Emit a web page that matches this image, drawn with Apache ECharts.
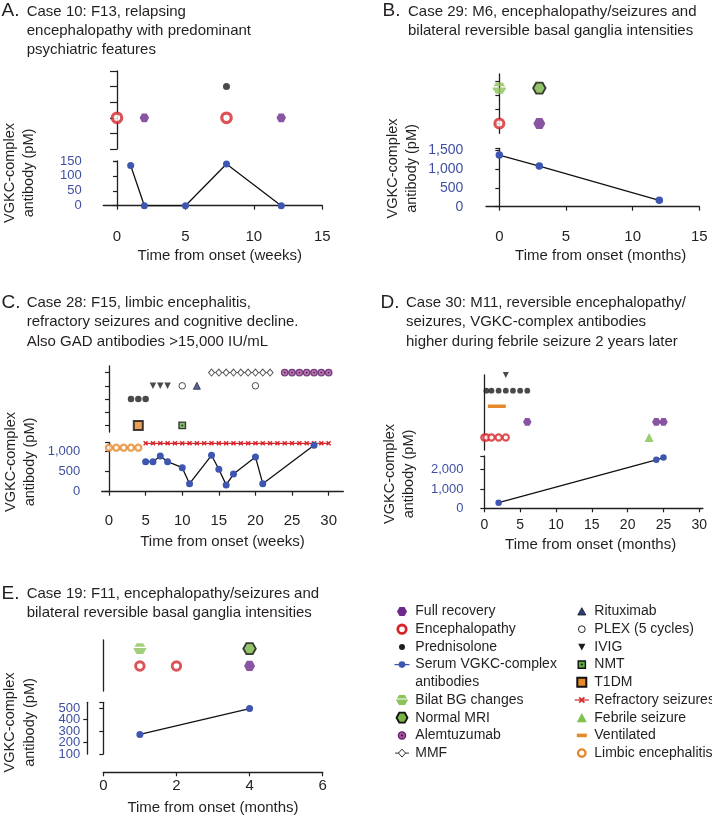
<!DOCTYPE html>
<html><head><meta charset="utf-8">
<script src="https://cdn.jsdelivr.net/npm/echarts@6/dist/echarts.min.js"></script>
<style>html,body{margin:0;padding:0;background:#fff}#c{width:712px;height:818px}</style>
</head><body><div id="c"></div>
<script>
// ---------------- DATA ----------------
// Panel A (weeks)
const A_abTimes = [1, 2, 5, 8, 12];
const A_abValues = [135, 0, 0, 140, 0];
const A_enceph = [0, 8];
const A_recovery = [2, 12];
const A_pred = [8];
const A_xTicks = [0, 5, 10, 15];
const A_yTicks = [0, 50, 100, 150];

// Panel B (months)
const B_abTimes = [0, 3, 12];
const B_abValues = [1370, 1080, 170];
const B_enceph = [0];
const B_recovery = [3];
const B_bilatBG = [0];
const B_normalMRI = [3];
const B_xTicks = [0, 5, 10, 15];
const B_yTicks = [0, 500, 1000, 1500];

// Panel C (weeks)
const C_abTimes = [5, 6, 7, 8, 10, 11, 14, 15, 16, 17, 20, 21, 28];
const C_abValues = [750, 750, 890, 750, 600, 200, 910, 560, 170, 440, 870, 200, 1160];
const C_limbic = [0, 1, 2, 3, 4];
const C_refractory = [5, 6, 7, 8, 9, 10, 11, 12, 13, 14, 15, 16, 17, 18, 19, 20, 21, 22, 23, 24, 25, 26, 27, 28, 29, 30];
const C_t1dm = [4];
const C_nmt = [10];
const C_pred = [3, 4, 5];
const C_ivig = [6, 7, 8];
const C_plex = [10, 20];
const C_ritux = [12];
const C_mmf = [14, 15, 16, 17, 18, 19, 20, 21, 22];
const C_alem = [24, 25, 26, 27, 28, 29, 30];
const C_xTicks = [0, 5, 10, 15, 20, 25, 30];
const C_yTicks = [0, 500, 1000];

// Panel D (months)
const D_abTimes = [2, 24, 25];
const D_abValues = [290, 2500, 2620];
const D_enceph = [0, 0.3, 1, 2, 3];
const D_febrile = [23];
const D_recovery = [6, 24, 25];
const D_ventilated = [0.5, 3];
const D_pred = [0.3, 1, 2, 3, 4, 5, 6];
const D_ivig = [3];
const D_xTicks = [0, 5, 10, 15, 20, 25, 30];
const D_yTicks = [0, 1000, 2000];

// Panel E (months)
const E_abTimes = [1, 4];
const E_abValues = [270, 495];
const E_enceph = [1, 2];
const E_recovery = [4];
const E_bilatBG = [1];
const E_normalMRI = [4];
const E_xTicks = [0, 2, 4, 6];
const E_yTicks = [100, 200, 300, 400, 500];

// Event rows (categorical row index on each event axis)
const ROW = {
  A: {enceph: 2, recovery: 2, pred: 4},
  B: {enceph: 1, recovery: 1, bilat: 3.5, mri: 3.5},
  C: {t1dm: 0, nmt: 0, pred: 2, ivig: 3, plex: 3, ritux: 3, mmf: 4, alem: 4, limbic: 1100, refr: 1210},
  D: {enceph: 0, febrile: 0, recovery: 1, vent: 2, pred: 3, ivig: 4},
  E: {enceph: 0, recovery: 0, bilat: 1, mri: 1}
};

// Legend
const LEG1 = ['Full recovery', 'Encephalopathy', 'Prednisolone', 'Serum VGKC-complex', 'antibodies', 'Bilat BG changes', 'Normal MRI', 'Alemtuzumab', 'MMF'];
const LEG1_KIND = ['recovery', 'enceph', 'pred', 'serum', null, 'bilat', 'mri', 'alem', 'mmf'];
const LEG2 = ['Rituximab', 'PLEX (5 cycles)', 'IVIG', 'NMT', 'T1DM', 'Refractory seizures', 'Febrile seizure', 'Ventilated', 'Limbic encephalitis'];
const LEG2_KIND = ['ritux', 'plex', 'ivig', 'nmt', 't1dm', 'refr', 'febrile', 'vent', 'limbic'];

// ---------------- STYLE ----------------
const FONT = 'Liberation Sans, Arial, Helvetica, sans-serif';
const COL = {
  purple: '#6b2a8c', red: '#d6262b', black: '#1d1d1b', blue: '#3e56b0',
  green: '#8cc25a', green2: '#78b443', alem: '#a8529f', alemB: '#5d1f68',
  navy: '#2c3d86', nmt: '#5fae47', orange: '#e5892d', febrile: '#7ec24b',
  axis: '#231f20', tick: '#3f4fa0', text: '#231f20'
};
const HEX = 'path://M-1,0L-0.5,-0.866L0.5,-0.866L1,0L0.5,0.866L-0.5,0.866Z';
const BGHEX = 'path://M-0.5,-0.866L0.5,-0.866L0.83,-0.3L-0.83,-0.3ZM-0.94,-0.1L0.94,-0.1L1,0L0.5,0.866L-0.5,0.866L-1,0Z';
const CROSS = 'path://M-1,-0.6L-0.6,-1L0,-0.4L0.6,-1L1,-0.6L0.4,0L1,0.6L0.6,1L0,0.4L-0.6,1L-1,0.6L-0.4,0Z';

const STY = {
  recovery: s => ({symbol: HEX, symbolSize: [s, s * 0.92], itemStyle: {color: COL.purple}}),
  enceph: s => ({symbol: 'circle', symbolSize: s, itemStyle: {color: '#fff', borderColor: COL.red, borderWidth: s * 0.34}}),
  pred: s => ({symbol: 'circle', symbolSize: s, itemStyle: {color: COL.black}}),
  bilat: s => ({symbol: BGHEX, symbolSize: [s, s * 0.82], itemStyle: {color: COL.green}}),
  mri: s => ({symbol: HEX, symbolSize: [s, s * 0.88], itemStyle: {color: COL.green2, borderColor: '#111', borderWidth: 1.8}}),
  alem: s => ({symbol: 'circle', symbolSize: s, itemStyle: {color: COL.alem, borderColor: COL.alemB, borderWidth: 1.3}}),
  dot: s => ({symbol: 'circle', symbolSize: s, itemStyle: {color: '#2a0f30'}}),
  ritux: s => ({symbol: 'triangle', symbolSize: s, itemStyle: {color: COL.navy, borderColor: '#111', borderWidth: 0.8}}),
  plex: s => ({symbol: 'circle', symbolSize: s, itemStyle: {color: '#fff', borderColor: '#222', borderWidth: 1}}),
  ivig: s => ({symbol: 'triangle', symbolRotate: 180, symbolSize: s, itemStyle: {color: COL.black}}),
  nmt: s => ({symbol: 'rect', symbolSize: s, itemStyle: {color: COL.nmt, borderColor: '#111', borderWidth: 1.4}}),
  t1dm: s => ({symbol: 'rect', symbolSize: s, itemStyle: {color: COL.orange, borderColor: '#111', borderWidth: 2}}),
  febrile: s => ({symbol: 'triangle', symbolSize: s, itemStyle: {color: COL.febrile}}),
  limbic: s => ({symbol: 'circle', symbolSize: s, itemStyle: {color: '#fff', borderColor: COL.orange, borderWidth: 2.3}})
};

// ---------------- LAYOUT ----------------
const grids = [], xAxes = [], yAxes = [], series = [];
const axisLine = {show: true, lineStyle: {color: COL.axis, width: 1.3}};
const fmt = v => String(v).replace(/\B(?=(\d{3})+(?!\d))/g, ',');

function lowerY(gl, lo, labels, ticks) {
  return {
    type: 'value', gridIndex: gl, position: 'left', min: lo.min, max: lo.max, offset: lo.offset,
    axisLine: axisLine,
    axisTick: {show: true, length: 4, customValues: ticks, lineStyle: {color: COL.axis, width: 1.2}},
    axisLabel: {customValues: labels, fontSize: lo.font, color: COL.tick, margin: lo.margin, fontFamily: FONT, formatter: fmt, showMinLabel: true, showMaxLabel: true, hideOverlap: false},
    splitLine: {show: false}
  };
}

function addPanel(c) {
  const gu = grids.length, gl = gu + 1;
  grids.push({left: c.left, width: c.width, top: c.up.top, height: c.up.height});
  grids.push({left: c.left, width: c.width, top: c.lo.top, height: c.lo.height});
  xAxes.push({type: 'value', gridIndex: gu, min: c.xmin, max: c.xmax, show: false});
  xAxes.push({
    type: 'value', gridIndex: gl, min: c.xmin, max: c.xmax, offset: c.x.offset,
    axisLine: axisLine,
    axisTick: {show: true, length: 4, customValues: c.x.ticks, lineStyle: {color: COL.axis, width: 1.2}},
    axisLabel: {customValues: c.x.ticks, fontSize: c.x.font, color: COL.text, margin: c.x.margin, fontFamily: FONT, showMinLabel: true, showMaxLabel: true},
    splitLine: {show: false},
    name: c.x.name, nameLocation: 'middle', nameGap: c.x.gap,
    nameTextStyle: {fontSize: 15, color: COL.text, fontFamily: FONT, padding: c.x.pad}
  });
  yAxes.push({
    type: 'value', gridIndex: gu, min: c.up.min, max: c.up.max, offset: c.up.offset,
    axisLine: axisLine,
    axisTick: {show: !!c.up.ticks, length: c.up.tickLen || 4, customValues: c.up.ticks || [], lineStyle: {color: COL.axis, width: 1.2}},
    axisLabel: {show: false}, splitLine: {show: false}
  });
  const yl = yAxes.length;
  if (c.lo.split) {
    // tightly packed labels: draw alternate ticks on a twin axis so none get hidden
    const a = c.lo.labels.filter((v, i) => i % 2 === 0), b = c.lo.labels.filter((v, i) => i % 2 === 1);
    yAxes.push(lowerY(gl, c.lo, a, a.concat([c.lo.max])));
    yAxes.push(lowerY(gl, c.lo, b, b));
  } else {
    yAxes.push(lowerY(gl, c.lo, c.lo.labels, c.lo.labels.concat([c.lo.max])));
  }
  return [gu, gl, gu, yl];
}

function serum(xi, yi, times, values, size) {
  series.push({
    type: 'line', xAxisIndex: xi, yAxisIndex: yi, clip: false, silent: true, z: 4,
    data: times.map((t, i) => [t, values[i]]),
    symbol: 'circle', symbolSize: size, showAllSymbol: true,
    itemStyle: {color: COL.blue}, lineStyle: {color: '#111', width: 1.3}
  });
}
function evt(kind, xi, yi, times, level, size, z) {
  series.push(Object.assign({
    type: 'scatter', xAxisIndex: xi, yAxisIndex: yi, clip: false, silent: true, z: z || 3,
    data: times.map(t => [t, level])
  }, STY[kind](size)));
}
function lineEvt(xi, yi, times, level, opt) {
  series.push(Object.assign({
    type: 'line', xAxisIndex: xi, yAxisIndex: yi, clip: false, silent: true, z: 3, showAllSymbol: true,
    data: times.map(t => [t, level])
  }, opt));
}

// Panel A
let [aux, alx, auy, aly] = addPanel({
  left: 103.3, width: 219, xmin: -1, xmax: 15,
  up: {top: 71, height: 78, min: 0, max: 5, ticks: [0, 1, 2, 3, 4, 5], tickLen: 7, offset: 15},
  lo: {top: 161, height: 44.7, min: 0, max: 150, labels: A_yTicks, font: 13, margin: 5.5, offset: 16},
  x: {offset: 18.3, ticks: A_xTicks, font: 15, margin: 5.5, name: 'Time from onset (weeks)', gap: 24, pad: [0, 0, 0, 14]}
});
serum(alx, aly, A_abTimes, A_abValues, 7);
evt('enceph', aux, auy, A_enceph, ROW.A.enceph, 9.5);
evt('recovery', aux, auy, A_recovery, ROW.A.recovery, 9.5);
evt('pred', aux, auy, A_pred, ROW.A.pred, 7);

// Panel B
let [bux, blx, buy, bly] = addPanel({
  left: 486, width: 213.3, xmin: -1, xmax: 15,
  up: {top: 74, height: 59.3, min: 0.3, max: 4.5, ticks: [1, 2, 3, 4], tickLen: 4, offset: 14.3},
  lo: {top: 148.3, height: 58.4, min: 0, max: 1550, labels: B_yTicks, font: 14, margin: 8, offset: 14.7},
  x: {offset: 17.3, ticks: B_xTicks, font: 15, margin: 5.5, name: 'Time from onset (months)', gap: 24, pad: [0, 0, 0, 16]}
});
serum(blx, bly, B_abTimes, B_abValues, 7.5);
evt('enceph', bux, buy, B_enceph, ROW.B.enceph, 9);
evt('recovery', bux, buy, B_recovery, ROW.B.recovery, 12);
evt('bilat', bux, buy, B_bilatBG, ROW.B.bilat, 14);
evt('mri', bux, buy, B_normalMRI, ROW.B.mri, 12.5);

// Panel C
let [cux, clx, cuy, cly] = addPanel({
  left: 101.7, width: 241.6, xmin: -1, xmax: 32,
  up: {top: 366, height: 66, min: -0.5, max: 4.5, ticks: [0, 1, 2, 3, 4], tickLen: 4, offset: 14.4},
  lo: {top: 442.5, height: 49.2, min: 0, max: 1230, labels: C_yTicks, font: 13, margin: 7, offset: 14.4},
  x: {offset: 15.6, ticks: C_xTicks, font: 15, margin: 6, name: 'Time from onset (weeks)', gap: 27, pad: [0, 0, 0, 0]}
});
serum(clx, cly, C_abTimes, C_abValues, 7);
evt('limbic', clx, cly, C_limbic, ROW.C.limbic, 6);
lineEvt(clx, cly, C_refractory, ROW.C.refr, {symbol: CROSS, symbolSize: 5, itemStyle: {color: COL.red}, lineStyle: {color: COL.red, width: 1.3}});
evt('t1dm', cux, cuy, C_t1dm, ROW.C.t1dm, 9);
evt('nmt', cux, cuy, C_nmt, ROW.C.nmt, 6.5);
evt('dot', cux, cuy, C_nmt, ROW.C.nmt, 2, 4);
evt('pred', cux, cuy, C_pred, ROW.C.pred, 6.5);
evt('ivig', cux, cuy, C_ivig, ROW.C.ivig, 6.5);
evt('plex', cux, cuy, C_plex, ROW.C.plex, 6.5);
evt('ritux', cux, cuy, C_ritux, ROW.C.ritux, 7);
lineEvt(cux, cuy, C_mmf, ROW.C.mmf, {symbol: 'diamond', symbolSize: [6, 7], itemStyle: {color: '#fff', borderColor: '#555', borderWidth: 1}, lineStyle: {color: '#555', width: 1}});
evt('alem', cux, cuy, C_alem, ROW.C.alem, 6.5);
evt('dot', cux, cuy, C_alem, ROW.C.alem, 1.8, 4);

// Panel D
let [dux, dlx, duy, dly] = addPanel({
  left: 484.3, width: 218.6, xmin: 0, xmax: 30.5,
  up: {top: 375, height: 75, min: -0.8, max: 4, ticks: null, offset: 13.6},
  lo: {top: 456, height: 52.3, min: 0, max: 2700, labels: D_yTicks, font: 13, margin: 7.5, offset: 13.3},
  x: {offset: 5, ticks: D_xTicks, font: 14, margin: 5, name: 'Time from onset (months)', gap: 24, pad: [0, 6, 0, 0]}
});
serum(dlx, dly, D_abTimes, D_abValues, 6.5);
evt('enceph', dux, duy, D_enceph, ROW.D.enceph, 6.2);
evt('febrile', dux, duy, D_febrile, ROW.D.febrile, 9);
evt('recovery', dux, duy, D_recovery, ROW.D.recovery, 8.5);
lineEvt(dux, duy, D_ventilated, ROW.D.vent, {symbol: 'none', lineStyle: {color: COL.orange, width: 3.5}});
evt('pred', dux, duy, D_pred, ROW.D.pred, 5.8);
evt('ivig', dux, duy, D_ivig, ROW.D.ivig, 6);

// Panel E
let [eux, elx, euy, ely] = addPanel({
  left: 103.3, width: 219.4, xmin: 0, xmax: 6,
  up: {top: 640, height: 51, min: -1.45, max: 1.5, ticks: null, offset: 16},
  lo: {top: 702.3, height: 51.7, min: 100, max: 550, labels: E_yTicks, font: 13, margin: 7, offset: 16, split: true},
  x: {offset: 18.3, ticks: E_xTicks, font: 15, margin: 6.5, name: 'Time from onset (months)', gap: 28, pad: [0, 0, 0, 0]}
});
serum(elx, ely, E_abTimes, E_abValues, 7);
evt('enceph', eux, euy, E_enceph, ROW.E.enceph, 8.5);
evt('recovery', eux, euy, E_recovery, ROW.E.recovery, 11);
evt('bilat', eux, euy, E_bilatBG, ROW.E.bilat, 13);
evt('mri', eux, euy, E_normalMRI, ROW.E.mri, 12.5);

// ---------------- GRAPHICS (titles, y names, legend) ----------------
const graphic = [];
function txt(x, y, t, size, extra) {
  graphic.push(Object.assign({type: 'text', x: x, y: y, silent: true,
    style: {text: t, fontSize: size, fontFamily: FONT, fill: COL.text, textAlign: 'left', textVerticalAlign: 'middle'}}, extra || {}));
}
function title(lx, tx, y0, letter, lines) {
  txt(lx, y0 - 0.5, letter, 19);
  lines.forEach((l, i) => txt(tx, y0 + i * 19.2, l, 15));
}
title(1.5, 26.7, 11.5, 'A.', ['Case 10: F13, relapsing', 'encephalopathy with predominant', 'psychiatric features']);
title(382.5, 408, 11.5, 'B.', ['Case 29: M6, encephalopathy/seizures and', 'bilateral reversible basal ganglia intensities']);
title(1.5, 26.7, 303, 'C.', ['Case 28: F15, limbic encephalitis,', 'refractory seizures and cognitive decline.', 'Also GAD antibodies >15,000 IU/mL']);
title(380.5, 406, 303, 'D.', ['Case 30: M11, reversible encephalopathy/', 'seizures, VGKC-complex antibodies', 'higher during febrile seizure 2 years later']);
title(1.5, 26.7, 594, 'E.', ['Case 19: F11, encephalopathy/seizures and', 'bilateral reversible basal ganglia intensities']);

function yname(cx, cy) {
  graphic.push({type: 'text', x: cx, y: cy, rotation: Math.PI / 2, silent: true,
    style: {text: 'VGKC-complex\nantibody (pM)', fontSize: 14.5, lineHeight: 19.5, fontFamily: FONT, fill: COL.text, textAlign: 'center', textVerticalAlign: 'middle'}});
}
yname(19.7, 173); yname(402.7, 168.5); yname(20.5, 462); yname(399.5, 474); yname(20, 722.5);

function hexPts(cx, cy, w, h) {
  return [[cx - w / 2, cy], [cx - w / 4, cy - h / 2], [cx + w / 4, cy - h / 2], [cx + w / 2, cy], [cx + w / 4, cy + h / 2], [cx - w / 4, cy + h / 2]];
}
function icon(kind, cx, cy) {
  const g = [];
  const add = o => { o.silent = true; g.push(o); };
  switch (kind) {
    case 'recovery': add({type: 'polygon', shape: {points: hexPts(cx, cy, 10, 9)}, style: {fill: COL.purple}}); break;
    case 'enceph': add({type: 'circle', shape: {cx: cx, cy: cy, r: 4.2}, style: {fill: '#fff', stroke: COL.red, lineWidth: 2.8}}); break;
    case 'pred': add({type: 'circle', shape: {cx: cx, cy: cy, r: 3}, style: {fill: COL.black}}); break;
    case 'serum':
      add({type: 'line', shape: {x1: cx - 7.5, y1: cy, x2: cx + 7.5, y2: cy}, style: {stroke: COL.blue, lineWidth: 1.3}});
      add({type: 'circle', shape: {cx: cx, cy: cy, r: 3.3}, style: {fill: COL.blue}}); break;
    case 'bilat': {
      const w = 12, h = 10;
      add({type: 'polygon', shape: {points: [[cx - w / 4, cy - h / 2], [cx + w / 4, cy - h / 2], [cx + 0.415 * w, cy - 0.15 * h], [cx - 0.415 * w, cy - 0.15 * h]]}, style: {fill: COL.green}});
      add({type: 'polygon', shape: {points: [[cx - 0.47 * w, cy - 0.05 * h], [cx + 0.47 * w, cy - 0.05 * h], [cx + w / 2, cy], [cx + w / 4, cy + h / 2], [cx - w / 4, cy + h / 2], [cx - w / 2, cy]]}, style: {fill: COL.green}});
      break;
    }
    case 'mri': add({type: 'polygon', shape: {points: hexPts(cx, cy, 11, 10)}, style: {fill: COL.green2, stroke: '#111', lineWidth: 1.8}}); break;
    case 'alem':
      add({type: 'circle', shape: {cx: cx, cy: cy, r: 3.6}, style: {fill: COL.alem, stroke: COL.alemB, lineWidth: 1.3}});
      add({type: 'circle', shape: {cx: cx, cy: cy, r: 1}, style: {fill: '#2a0f30'}}); break;
    case 'mmf':
      add({type: 'line', shape: {x1: cx - 7, y1: cy, x2: cx + 7, y2: cy}, style: {stroke: '#333', lineWidth: 1}});
      add({type: 'polygon', shape: {points: [[cx - 3.5, cy], [cx, cy - 4], [cx + 3.5, cy], [cx, cy + 4]]}, style: {fill: '#fff', stroke: '#333', lineWidth: 1}}); break;
    case 'ritux': add({type: 'polygon', shape: {points: [[cx - 4, cy + 3.5], [cx, cy - 3.8], [cx + 4, cy + 3.5]]}, style: {fill: COL.navy, stroke: '#111', lineWidth: 0.8}}); break;
    case 'plex': add({type: 'circle', shape: {cx: cx, cy: cy, r: 3.4}, style: {fill: '#fff', stroke: '#222', lineWidth: 1}}); break;
    case 'ivig': add({type: 'polygon', shape: {points: [[cx - 3.6, cy - 3.2], [cx + 3.6, cy - 3.2], [cx, cy + 3.6]]}, style: {fill: COL.black}}); break;
    case 'nmt':
      add({type: 'rect', shape: {x: cx - 3.6, y: cy - 3.6, width: 7.2, height: 7.2}, style: {fill: COL.nmt, stroke: '#111', lineWidth: 1.4}});
      add({type: 'circle', shape: {cx: cx, cy: cy, r: 1}, style: {fill: '#111'}}); break;
    case 't1dm': add({type: 'rect', shape: {x: cx - 4.5, y: cy - 4.5, width: 9, height: 9}, style: {fill: COL.orange, stroke: '#111', lineWidth: 2}}); break;
    case 'refr':
      add({type: 'line', shape: {x1: cx - 7, y1: cy, x2: cx + 7, y2: cy}, style: {stroke: COL.red, lineWidth: 1.2}});
      add({type: 'line', shape: {x1: cx - 2.6, y1: cy - 2.6, x2: cx + 2.6, y2: cy + 2.6}, style: {stroke: COL.red, lineWidth: 1.6}});
      add({type: 'line', shape: {x1: cx - 2.6, y1: cy + 2.6, x2: cx + 2.6, y2: cy - 2.6}, style: {stroke: COL.red, lineWidth: 1.6}}); break;
    case 'febrile': add({type: 'polygon', shape: {points: [[cx - 5, cy + 4.5], [cx, cy - 4.8], [cx + 5, cy + 4.5]]}, style: {fill: COL.febrile}}); break;
    case 'vent': add({type: 'rect', shape: {x: cx - 5, y: cy - 1.8, width: 10, height: 3.6}, style: {fill: COL.orange}}); break;
    case 'limbic': add({type: 'circle', shape: {cx: cx, cy: cy, r: 3.7}, style: {fill: '#fff', stroke: COL.orange, lineWidth: 2.4}}); break;
  }
  return g;
}
const legY0 = 611.5, legDy = 17.7;
LEG1.forEach((t, i) => {
  const y = legY0 + i * legDy;
  if (LEG1_KIND[i]) icon(LEG1_KIND[i], 402, y).forEach(o => graphic.push(o));
  txt(415.3, y, t, 14);
});
LEG2.forEach((t, i) => {
  const y = legY0 + i * legDy;
  icon(LEG2_KIND[i], 581.8, y).forEach(o => graphic.push(o));
  txt(594.3, y, t, 14);
});

const chart = echarts.init(document.getElementById('c'), null, {renderer: 'canvas'});
chart.setOption({
  animation: false,
  backgroundColor: '#fff',
  textStyle: {fontFamily: FONT},
  grid: grids, xAxis: xAxes, yAxis: yAxes, series: series, graphic: graphic
});
</script></body></html>
